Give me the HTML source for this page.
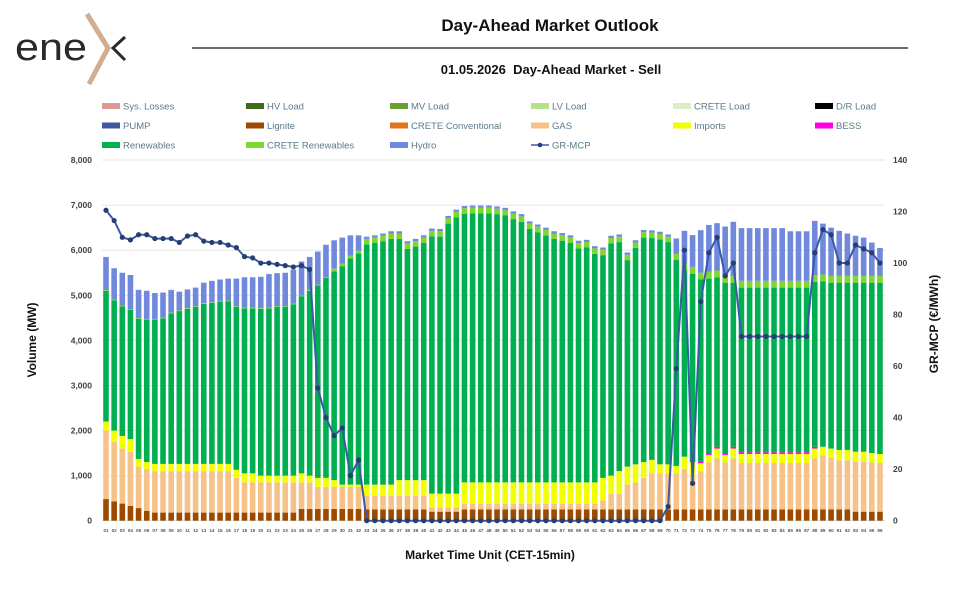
<!DOCTYPE html>
<html><head><meta charset="utf-8"><style>
body{margin:0;background:#fff;width:967px;height:590px;overflow:hidden;font-family:"Liberation Sans",sans-serif}
</style></head><body>
<svg id="s" width="967" height="590" xmlns="http://www.w3.org/2000/svg" style="position:absolute;left:0;top:0">
<text x="15" y="60" font-family="Liberation Sans,sans-serif" font-size="38" fill="#2a2a2a" textLength="72" lengthAdjust="spacingAndGlyphs">ene</text>
<path d="M87 14 L108 48 L89 84" stroke="#d2ad90" stroke-width="5" fill="none"/>
<path d="M125 37 L113 48 L125 60" stroke="#2a2a2a" stroke-width="3" fill="none"/>
<text x="550" y="31" text-anchor="middle" font-size="17" font-weight="bold" fill="#111">Day-Ahead Market Outlook</text>
<line x1="192" y1="48" x2="908" y2="48" stroke="#111" stroke-width="1.3"/>
<text x="551" y="74" text-anchor="middle" font-size="13" font-weight="bold" fill="#111" xml:space="preserve">01.05.2026  Day-Ahead Market - Sell</text>
<g id="g"></g>
</svg>
<script>
const g=document.getElementById('g');let h='';
const Y=v=>520.7-v*0.045083, P=v=>520.7-v*2.5764, X=i=>106+i*8.147;
function rep(v,n){return Array(n).fill(v)}
const L=[480,430,380,330,280,220,...rep(180,18),...rep(260,8),...rep(250,8),...rep(200,4),...rep(250,48),...rep(200,4)];
const G=[2000,1750,1600,1530,1200,1150,...rep(1100,10),950,...rep(850,9),...rep(750,6),...rep(550,8),...rep(300,4),...rep(380,17),450,600,600,800,850,950,1050,1050,1050,1050,1150,1000,1100,1290,1380,1290,1380,...rep(1280,9),1380,1450,1400,1340,1340,1310,1310,1290,1280];
const I=[2200,2000,1880,1810,1370,1300,...rep(1260,10),1130,1050,1050,...rep(1000,5),1050,1000,950,950,900,800,800,800,...rep(800,4),...rep(900,4),...rep(600,4),...rep(850,17),950,1000,1100,1200,1250,1300,1350,1250,1250,1215,1420,1300,1275,1460,1600,1460,1600,...rep(1480,9),1600,1640,1600,1570,1570,1530,1530,1500,1480];
const T=[5850,5600,5500,5450,5120,5100,5050,5060,5120,5080,5130,5170,5280,5320,5350,5370,5370,5400,5400,5410,5470,5490,5500,5570,5750,5850,5970,6120,6220,6280,6330,6330,
6300,6330,6370,6420,6420,6200,6250,6330,6480,6470,6760,6900,6980,6990,6990,6990,6970,6940,6860,6800,6640,6570,6500,6420,6380,6330,6210,6230,6090,6060,6320,6350,5950,6220,6450,6440,6410,6350,6260,
6430,6335,6445,6560,6600,6525,6630,6490,6490,6490,6490,6490,6490,6420,6420,6420,6650,6590,6500,6430,6370,6320,6280,6170,6050];
const R1=[5100,4890,4750,4680,4480,4460,4460,4490,4600,4650,4700,4740,4810,4830,4860,4870,4740,4710,4710,4700,4710,4740,4740,4800,4980,5100,5220,5390,5530,5640,5820,5930];
const R3=[5550,5480,5350,5370,5400,5280,5280,...rep(5170,9),5300,5310,...rep(5280,7)];
const PR=[120.5,116.5,110,109,111,111,109.5,109.5,109.5,108,110.5,111,108.5,108,108,107,106,102.5,102,100,100,99.5,99,98.5,99,97.5,51.5,40,33,36,17.5,23.5,...rep(0,37),5.5,59,105,14.5,85,104,110,95,100,...rep(71.5,9),104,113,111,100,100,107,105.5,104,100];
for(let k=0;k<=8;k++){const y=Y(k*1000);h+=`<line x1="102" x2="885" y1="${y}" y2="${y}" stroke="#dedede" stroke-width="0.8"/>`;
h+=`<text x="92" y="${y+3}" text-anchor="end" font-size="8.5" font-weight="bold" fill="#404040">${k?k+','+'000':'0'}</text>`;}
for(let k=0;k<=140;k+=20){h+=`<text x="893" y="${P(k)+3}" font-size="8.5" font-weight="bold" fill="#404040">${k}</text>`;}
const w=5.6;
function rect(i,a,b,c){if(b<=a)return;h+=`<rect x="${(X(i)-w/2).toFixed(2)}" y="${Y(b).toFixed(2)}" width="${w}" height="${(Y(a)-Y(b)).toFixed(2)}" fill="${c}"/>`}
for(let i=0;i<96;i++){
 let R,LG;
 if(i<32){R=R1[i];LG=i>=28?R+60:R+15}
 else if(i<70){R=T[i]-170;LG=T[i]-50}
 else if(i==70){R=5790;LG=5920}
 else{R=R3[i-71];LG=R+150}
 const bess=(i>=73&&i<=87)?40:0;
 rect(i,0,L[i],'#9c4a00');rect(i,L[i],G[i],'#f5c38a');rect(i,G[i],I[i],'#f2ff00');
 rect(i,I[i],I[i]+bess,'#ff00e6');rect(i,I[i]+bess,R,'#00b050');rect(i,R,LG,'#7ed630');rect(i,LG,T[i],'#7089dd');
 h+=`<text x="${X(i)}" y="532" text-anchor="middle" font-size="4.6" font-weight="bold" fill="#555">${String(i+1).padStart(2,'0')}</text>`;
}
let pts=PR.map((v,i)=>X(i).toFixed(2)+','+P(v).toFixed(2)).join(' ');
h+=`<polyline points="${pts}" fill="none" stroke="#3a5aa8" stroke-width="2"/>`;
PR.forEach((v,i)=>{h+=`<circle cx="${X(i)}" cy="${P(v)}" r="2.6" fill="#263f6e"/>`});
const leg=[['Sys. Losses','#dc9a94'],['HV Load','#3f6b1e'],['MV Load','#6aa12e'],['LV Load','#b5e08a'],['CRETE Load','#d7efc1'],['D/R Load','#000'],
['PUMP','#3c5aa0'],['Lignite','#9c4a00'],['CRETE Conventional','#e0731c'],['GAS','#f5c38a'],['Imports','#f2ff00'],['BESS','#ff00e6'],
['Renewables','#00b050'],['CRETE Renewables','#7ed630'],['Hydro','#7089dd'],['GR-MCP','line']];
const cx=[102,246,390,531,673,815];
leg.forEach((l,k)=>{const x=cx[k%6],y=106+Math.floor(k/6)*19.5;
 if(l[1]=='line'){h+=`<line x1="${x}" x2="${x+18}" y1="${y}" y2="${y}" stroke="#3a5aa8" stroke-width="1.6"/><circle cx="${x+9}" cy="${y}" r="2.3" fill="#263f6e"/>`}
 else h+=`<rect x="${x}" y="${y-3}" width="18" height="6" fill="${l[1]}"/>`;
 h+=`<text x="${x+21}" y="${y+3.5}" font-size="9.5" fill="#5a7a8a">${l[0]}</text>`});
h+=`<text transform="translate(36,340) rotate(-90)" text-anchor="middle" font-size="12" font-weight="bold" fill="#111">Volume (MW)</text>`;
h+=`<text transform="translate(938,324) rotate(-90)" text-anchor="middle" font-size="12" font-weight="bold" fill="#111">GR-MCP (€/MWh)</text>`;
h+=`<text x="490" y="559" text-anchor="middle" font-size="12" font-weight="bold" fill="#111">Market Time Unit (CET-15min)</text>`;
g.innerHTML=h;
</script>
</body></html>
